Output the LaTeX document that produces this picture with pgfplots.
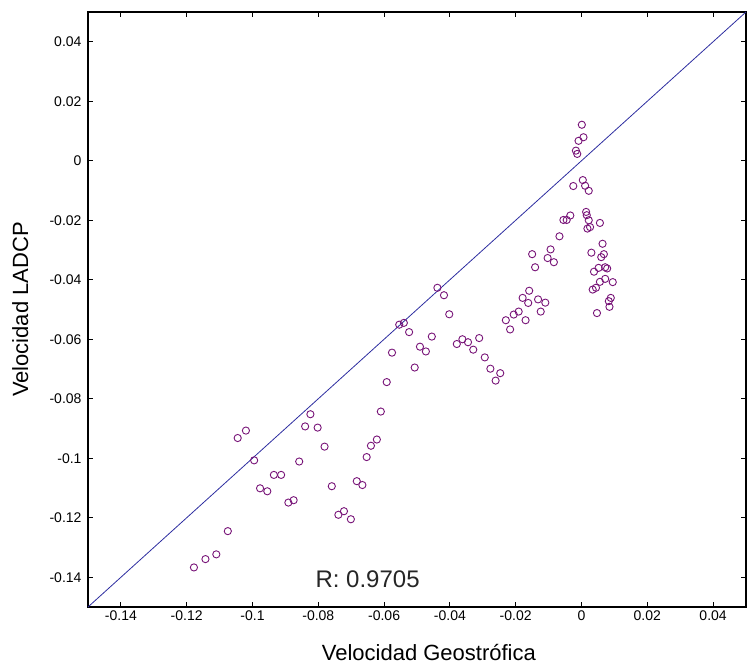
\documentclass[border=0pt]{standalone}
\usepackage{fontspec}
\setmainfont{Liberation Sans}
\usepackage{pgfplots}
\pgfplotsset{compat=1.18}
\definecolor{ptpurple}{RGB}{120,20,120}
\definecolor{lnblue}{RGB}{45,45,160}
\begin{document}
\begin{tikzpicture}
\begin{axis}[name=ax, scale only axis, width=658pt, height=595pt,
  xmin=-0.15, xmax=0.05, ymin=-0.15, ymax=0.05,
  xtick={-0.14,-0.12,-0.1,-0.08,-0.06,-0.04,-0.02,0,0.02,0.04},
  xticklabels={-0.14,-0.12,-0.1,-0.08,-0.06,-0.04,-0.02,0,0.02,0.04},
  ytick={-0.14,-0.12,-0.1,-0.08,-0.06,-0.04,-0.02,0,0.02,0.04},
  yticklabels={-0.14,-0.12,-0.1,-0.08,-0.06,-0.04,-0.02,0,0.02,0.04},
  tick align=inside, major tick length=5pt,
  tick style={black, line width=0.9pt},
  axis line style={black, line width=1.2pt},
  ticklabel style={font=\fontsize{14}{16}\selectfont},
  yticklabel style={xshift=-3pt},
  xlabel={Velocidad Geostrófica},
  ylabel={Velocidad LADCP},
  xlabel style={font=\fontsize{22}{26}\selectfont, at={(axis description cs:0.518,-0.076)}, anchor=center},
  ylabel style={font=\fontsize{22}{26}\selectfont, at={(axis description cs:-0.103,0.5)}, anchor=center, rotate=0},
  clip=true,
]
\addplot[lnblue, line width=0.8pt, no marks] coordinates {(-0.15,-0.15) (0.05,0.05)};
\addplot[only marks, mark=o, mark size=3.6pt, mark options={ptpurple, line width=0.9pt}] coordinates {
(-0.1178,-0.1367) (-0.1143,-0.1339) (-0.1110,-0.1323) (-0.1075,-0.1245)
(-0.1045,-0.0932) (-0.1020,-0.0907) (-0.0995,-0.1007) (-0.0977,-0.1101)
(-0.0955,-0.1111) (-0.0935,-0.1056) (-0.0913,-0.1056) (-0.0891,-0.1149)
(-0.0875,-0.1141) (-0.0858,-0.1011) (-0.0840,-0.0893) (-0.0824,-0.0852)
(-0.0802,-0.0897) (-0.0781,-0.0961) (-0.0759,-0.1094) (-0.0739,-0.1190)
(-0.0722,-0.1178) (-0.0701,-0.1205) (-0.0683,-0.1077) (-0.0666,-0.1090)
(-0.0653,-0.0996) (-0.0640,-0.0958) (-0.0622,-0.0937) (-0.0610,-0.0843)
(-0.0592,-0.0744) (-0.0576,-0.0645) (-0.0554,-0.0551) (-0.0540,-0.0545)
(-0.0524,-0.0576) (-0.0507,-0.0695) (-0.0491,-0.0625) (-0.0473,-0.0641)
(-0.0455,-0.0591) (-0.0438,-0.0427) (-0.0418,-0.0452) (-0.0402,-0.0516)
(-0.0379,-0.0616) (-0.0362,-0.0600) (-0.0345,-0.0610) (-0.0329,-0.0635)
(-0.0311,-0.0596) (-0.0294,-0.0661) (-0.0277,-0.0699) (-0.0261,-0.0739)
(-0.0247,-0.0714) (-0.0230,-0.0536) (-0.0217,-0.0567) (-0.0206,-0.0517)
(-0.0191,-0.0507) (-0.0179,-0.0461) (-0.0170,-0.0536) (-0.0162,-0.0478)
(-0.0159,-0.0437) (-0.0141,-0.0358) (-0.0132,-0.0466) (-0.0124,-0.0507)
(-0.0110,-0.0477) (-0.0084,-0.0341) (-0.0150,-0.0314) (-0.0103,-0.0327)
(-0.0094,-0.0298) (-0.0067,-0.0254) (-0.0055,-0.0199) (-0.0045,-0.0199)
(-0.0034,-0.0184) (-0.0025,-0.0085) (-0.0017,0.0034) (-0.0013,0.0023)
(-0.0009,0.0067) (0.0001,0.0121) (0.0006,0.0079) (0.0004,-0.0065)
(0.0011,-0.0084) (0.0022,-0.0101) (0.0014,-0.0172) (0.0016,-0.0183)
(0.0022,-0.0200) (0.0026,-0.0223) (0.0018,-0.0228) (0.0056,-0.0209)
(0.0064,-0.0279) (0.0030,-0.0309) (0.0068,-0.0314) (0.0060,-0.0324)
(0.0052,-0.0360) (0.0072,-0.0358) (0.0078,-0.0362) (0.0038,-0.0373)
(0.0056,-0.0407) (0.0072,-0.0397) (0.0095,-0.0408) (0.0034,-0.0433)
(0.0044,-0.0427) (0.0089,-0.0461) (0.0083,-0.0472) (0.0085,-0.0491)
(0.0047,-0.0512)
};
\node[anchor=base west, font=\fontsize{24}{28}\selectfont, text=black!85] at (axis cs:-0.0819,-0.1433) {R: 0.9705};
\end{axis}
\pgfresetboundingbox
\path ([shift={(-88pt,-60pt)}]ax.south west) rectangle ([shift={(3pt,12pt)}]ax.north east);
\end{tikzpicture}
\end{document}
